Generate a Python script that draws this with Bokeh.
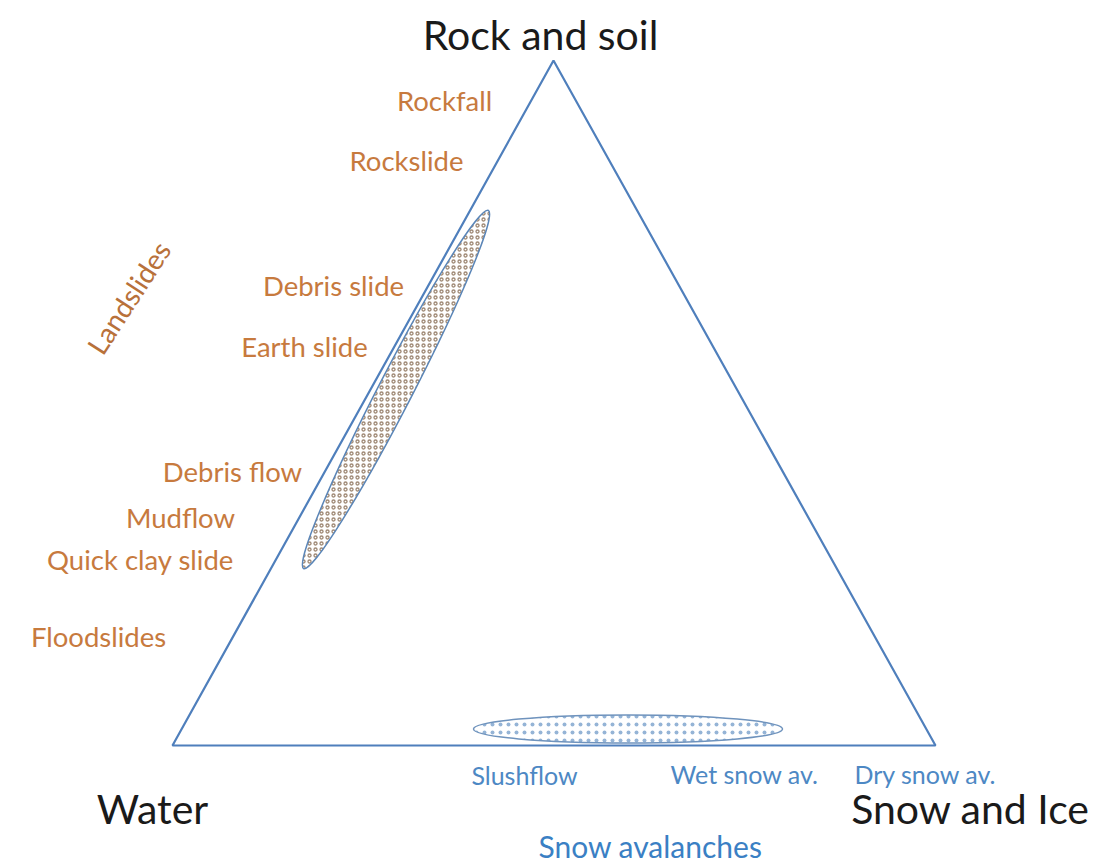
from bokeh.plotting import figure
from bokeh.models import Range1d
from bokeh.core.properties import value
from bokeh.embed import file_html
from bokeh.resources import INLINE
import math

W, H = 1107, 866

# Triangle corners (picture coordinates, y downward)
corner_names = ["Rock and soil", "Water", "Snow and Ice"]
corner_x = [553, 172, 935]
corner_y = [60, 745, 745]

# Hatched regions: centre, long axis, short axis, tilt (deg)
region_names = ["Landslides", "Snow avalanches"]
region_cx = [395.5, 627.5]
region_cy = [389, 728.5]
region_len = [403, 309]
region_wid = [34, 28]
region_tilt = [62.7, 0]

# Process labels
land_labels = ["Rockfall", "Rockslide", "Debris slide", "Earth slide",
               "Debris flow", "Mudflow", "Quick clay slide", "Floodslides"]
land_x = [444, 406, 333, 304, 232, 180, 140, 98]
land_y = [100, 160, 285, 346, 471, 517, 559, 636]

snow_labels = ["Slushflow", "Wet snow av.", "Dry snow av."]
snow_x = [524, 744, 925]
snow_y = [774, 773, 773]

corner_label_x = [540, 152, 970]
corner_label_y = [34, 808, 808]

FONT = "Lato"
ORANGE = "#c77a3e"
BLUE_TXT = "#4d88c4"
LINE_BLUE = "#4f7fbc"

def fy(v):
    return [H - t for t in v] if isinstance(v, list) else H - v

p = figure(width=W, height=H, x_range=Range1d(0, W), y_range=Range1d(0, H),
           output_backend="svg", toolbar_location=None, min_border=0)
p.axis.visible = False
p.grid.visible = False
p.outline_line_color = None
p.background_fill_color = "white"

# triangle
p.patch(corner_x, fy(corner_y), fill_color=None, line_color=LINE_BLUE, line_width=2.2)

# landslide ellipse
p.ellipse(x=[region_cx[0]], y=[fy(region_cy[0])], width=[region_len[0]], height=[region_wid[0]],
          angle=[math.radians(region_tilt[0])], fill_color="white",
          hatch_pattern="ring", hatch_color="#a08a76", hatch_scale=6, hatch_weight=1.3,
          line_color="#5b86b8", line_width=1.5)
# snow ellipse
p.ellipse(x=[region_cx[1]], y=[fy(region_cy[1])], width=[region_len[1]], height=[region_wid[1]],
          angle=[math.radians(region_tilt[1])], fill_color="white",
          hatch_pattern="dot", hatch_color="#95b4d6", hatch_scale=8, hatch_weight=1.5,
          line_color="#6f93bd", line_width=1.5)

# corner labels
p.text(x=corner_label_x, y=fy(corner_label_y), text=corner_names, text_font=value(FONT),
       text_font_size="41px", text_color="#1a1a1a", text_align="center", text_baseline="middle")

# landslide labels
p.text(x=land_x, y=fy(land_y), text=land_labels, text_font=value(FONT),
       text_font_size="27.5px", text_color=ORANGE, text_align="center", text_baseline="middle")
p.text(x=[128], y=[fy(297)], text=["Landslides"], angle=[math.radians(57)], text_font=value(FONT),
       text_font_size="28px", text_color="#b8713a", text_align="center", text_baseline="middle")

# snow labels
p.text(x=snow_x, y=fy(snow_y), text=snow_labels, text_font=value(FONT),
       text_font_size="25px", text_color=BLUE_TXT, text_align="center", text_baseline="middle")
p.text(x=[650], y=[fy(845)], text=["Snow avalanches"], text_font=value(FONT),
       text_font_size="30px", text_color="#3a80c4", text_align="center", text_baseline="middle")

open("out.html", "w").write(file_html(p, INLINE))
